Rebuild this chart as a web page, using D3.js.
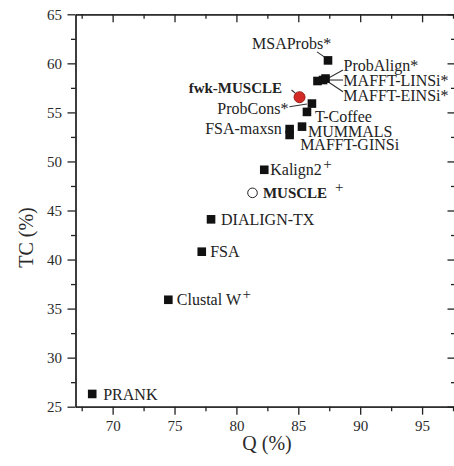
<!DOCTYPE html>
<html>
<head>
<meta charset="utf-8">
<script src="https://cdn.jsdelivr.net/npm/d3@7"></script>
<style>
  body { margin: 0; background: #fff; }
  svg { display: block; }
  .axis path, .axis line { stroke: #222; stroke-width: 1.3; }
  .axis text { font-family: "Liberation Serif", "Times New Roman", serif; font-size: 15px; fill: #2a2a2a; }
</style>
</head>
<body>
<div id="wrapper"></div>
<script>
// data
const methods = ["MSAProbs*", "ProbAlign*", "MAFFT-LINSi*", "MAFFT-EINSi*", "fwk-MUSCLE", "ProbCons*",
    "T-Coffee", "MUMMALS", "FSA-maxsn", "MAFFT-GINSi", "Kalign2+", "MUSCLE+", "DIALIGN-TX", "FSA",
    "Clustal W+", "PRANK"];
const qValues = [87.4, 87.2, 87.0, 86.55, 85.1, 86.1, 85.7, 85.3, 84.3, 84.3, 82.25, 81.3, 77.95, 77.2, 74.5, 68.35];
const tcValues = [60.3, 58.45, 58.3, 58.2, 56.55, 55.9, 55.05, 53.55, 53.3, 52.7, 49.15, 46.8, 44.1, 40.8, 35.9, 26.3];
const groups = ["other", "other", "other", "other", "proposed", "other", "other", "other", "other", "other",
    "other", "baseline", "other", "other", "other", "other"];
const xTicks = [70, 75, 80, 85, 90, 95];
const xMinorTicks = [67.5, 72.5, 77.5, 82.5, 87.5, 92.5, 97.5];
const yTicks = [25, 30, 35, 40, 45, 50, 55, 60, 65];
const yMinorTicks = [27.5, 32.5, 37.5, 42.5, 47.5, 52.5, 57.5, 62.5];

// label placement, pixel offsets from the marker
const labelLayout = {
    "MSAProbs*":    {dx: -76, dy: -17, anchor: "start", leader: [-11, -8.5, -3, -3]},
    "ProbAlign*":   {dx: 18, dy: -12.5, anchor: "start", leader: [3, -0.5, 17.5, -8.5]},
    "MAFFT-LINSi*": {dx: 20.3, dy: 1, anchor: "start", leader: [6, 0, 20, 0]},
    "MAFFT-EINSi*": {dx: 25.8, dy: 15, anchor: "start", leader: [10.5, 0.7, 25.5, 10.7]},
    "fwk-MUSCLE":   {dx: -17.5, dy: -10, anchor: "end", leader: [-8, -7.2, -2, -2], bold: true},
    "ProbCons*":    {dx: -23.5, dy: 4.7, anchor: "end", leader: [-22.5, 3.1, -5, 0.4]},
    "T-Coffee":     {dx: 8, dy: 4.8, anchor: "start"},
    "MUMMALS":      {dx: 6, dy: 5.1, anchor: "start"},
    "FSA-maxsn":    {dx: -8, dy: -0.8, anchor: "end"},
    "MAFFT-GINSi":  {dx: 10.5, dy: 10, anchor: "start"},
    "Kalign2+":     {dx: 6, dy: 0, anchor: "start", supGap: 1.5},
    "MUSCLE+":      {dx: 10.4, dy: 0, anchor: "start", bold: true, supGap: 8},
    "DIALIGN-TX":   {dx: 10, dy: 0, anchor: "start"},
    "FSA":          {dx: 8.4, dy: 0, anchor: "start"},
    "Clustal W+":   {dx: 8.5, dy: 0, anchor: "start", supGap: 1.5},
    "PRANK":        {dx: 11, dy: 1, anchor: "start"}
};

const data = methods.map((m, i) => ({name: m, q: qValues[i], tc: tcValues[i], group: groups[i]}));

const dimension = {width: 454, height: 466};

const svg = d3.select("#wrapper").append("svg")
    .attr("width", dimension.width)
    .attr("height", dimension.height);

const xScaler = d3.scaleLinear().domain([67, 97.7]).range([75.5, 455.5]);
const yScaler = d3.scaleLinear().domain([25, 65]).range([406.7, 14.3]);

const [x0, x1] = xScaler.range();
const [y0, y1] = yScaler.range();

// bottom axis
svg.append("g").classed("axis", true)
    .attr("transform", `translate(0,${y0})`)
    .call(d3.axisBottom(xScaler).tickValues(xTicks).tickSize(8).tickPadding(6).tickSizeOuter(0));
svg.append("g").classed("axis", true)
    .attr("transform", `translate(0,${y0})`)
    .call(d3.axisBottom(xScaler).tickValues(xMinorTicks).tickSize(4.5).tickFormat("").tickSizeOuter(0));

// top axis, ticks inside
svg.append("g").classed("axis", true)
    .attr("transform", `translate(0,${y1})`)
    .call(d3.axisTop(xScaler).tickValues(xTicks).tickSize(-8).tickFormat("").tickSizeOuter(0));
svg.append("g").classed("axis", true)
    .attr("transform", `translate(0,${y1})`)
    .call(d3.axisTop(xScaler).tickValues(xMinorTicks).tickSize(-4.5).tickFormat("").tickSizeOuter(0));

// left axis
svg.append("g").classed("axis", true)
    .attr("transform", `translate(${x0},0)`)
    .call(d3.axisLeft(yScaler).tickValues(yTicks).tickSize(8).tickPadding(5.5).tickSizeOuter(0));
svg.append("g").classed("axis", true)
    .attr("transform", `translate(${x0},0)`)
    .call(d3.axisLeft(yScaler).tickValues(yMinorTicks).tickSize(4.5).tickFormat("").tickSizeOuter(0));

// right axis, ticks inside
svg.append("g").classed("axis", true)
    .attr("transform", `translate(${x1},0)`)
    .call(d3.axisRight(yScaler).tickValues(yTicks).tickSize(-8).tickFormat("").tickSizeOuter(0));
svg.append("g").classed("axis", true)
    .attr("transform", `translate(${x1},0)`)
    .call(d3.axisRight(yScaler).tickValues(yMinorTicks).tickSize(-4.5).tickFormat("").tickSizeOuter(0));

// axis titles
svg.append("text")
    .attr("x", 267)
    .attr("y", 450)
    .attr("text-anchor", "middle")
    .style("font-family", "'Liberation Serif', 'Times New Roman', serif")
    .style("font-size", "20px")
    .attr("fill", "#2a2a2a")
    .text("Q (%)");

svg.append("text")
    .attr("transform", `translate(33,${(y0 + y1) / 2 + 27}) rotate(-90)`)
    .attr("text-anchor", "middle")
    .style("font-family", "'Liberation Serif', 'Times New Roman', serif")
    .style("font-size", "20px")
    .attr("fill", "#2a2a2a")
    .text("TC (%)");

// leader lines
const leaders = svg.append("g");
data.filter(d => labelLayout[d.name].leader).forEach(d => {
    const L = labelLayout[d.name].leader;
    const px = xScaler(d.q), py = yScaler(d.tc);
    leaders.append("line")
        .attr("x1", px + L[0]).attr("y1", py + L[1])
        .attr("x2", px + L[2]).attr("y2", py + L[3])
        .attr("stroke", "#333")
        .attr("stroke-width", 1.1);
});

// markers
const side = 8.6;
const markers = svg.append("g");
markers.selectAll("rect")
    .data(data.filter(d => d.group === "other"))
    .join("rect")
    .attr("x", d => xScaler(d.q) - side / 2)
    .attr("y", d => yScaler(d.tc) - side / 2)
    .attr("width", side)
    .attr("height", side)
    .attr("fill", "#111");

markers.selectAll("circle")
    .data(data.filter(d => d.group !== "other"))
    .join("circle")
    .attr("cx", d => xScaler(d.q))
    .attr("cy", d => yScaler(d.tc))
    .attr("r", d => d.group === "proposed" ? 5.5 : 4.8)
    .attr("fill", d => d.group === "proposed" ? "#d42a25" : "#fff")
    .attr("stroke", d => d.group === "proposed" ? "#9c1f1b" : "#222")
    .attr("stroke-width", 1);

// labels
const labels = svg.append("g")
    .style("font-family", "'Liberation Serif', 'Times New Roman', serif")
    .attr("fill", "#222");

data.forEach(d => {
    const lay = labelLayout[d.name];
    const hasSup = d.name.endsWith("+");
    const base = hasSup ? d.name.slice(0, -1) : d.name;
    const t = labels.append("text")
        .attr("x", xScaler(d.q) + lay.dx)
        .attr("y", yScaler(d.tc) + lay.dy)
        .attr("dy", "0.34em")
        .attr("text-anchor", lay.anchor);
    t.append("tspan")
        .style("font-size", lay.bold ? "15px" : "16px")
        .style("font-weight", lay.bold ? "bold" : "normal")
        .text(base);
    if (hasSup) {
        t.append("tspan")
            .attr("dx", lay.supGap)
            .attr("dy", "-0.4em")
            .style("font-size", "15px")
            .text("+");
    }
});
</script>
</body>
</html>
